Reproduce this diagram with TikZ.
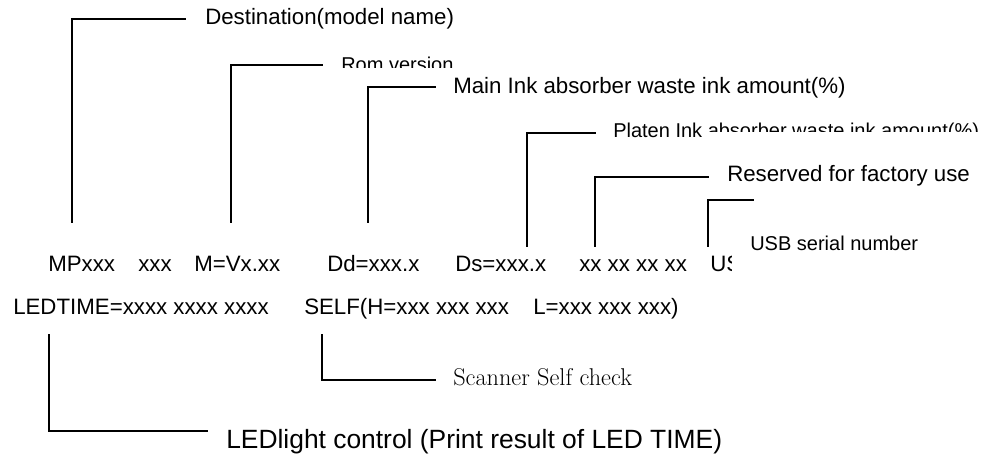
\documentclass[tikz,border=0pt]{standalone}
\usepackage{fontspec}
\newfontfamily\arial{Liberation Sans}
\tikzset{
  lbl/.style={anchor=base west, inner sep=0pt, font=\arial\fontsize{16.7}{20}\selectfont},
  sm/.style={anchor=base west, inner sep=0pt, font=\arial\fontsize{15}{18}\selectfont},
  big/.style={anchor=base west, inner sep=0pt, font=\arial\fontsize{19.8}{24}\selectfont},
  serif/.style={anchor=base west, inner sep=0pt, font=\rmfamily\fontsize{18.2}{22}\selectfont},
  conn/.style={line width=1.1pt, line cap=rect},
}
\begin{document}
\begin{tikzpicture}[x=0.75pt,y=-0.75pt]
\useasboundingbox (0,0) rectangle (983,462);
% first data row
\node[lbl] (mp) at (48,271) {MPxxx};
\node[lbl] (x3) at (138,271) {xxx};
\node[lbl] (mv) at (194,271) {M=Vx.xx};
\node[lbl] (dd) at (327,271) {Dd=xxx.x};
\node[lbl] (ds) at (455,271) {Ds=xxx.x};
\node[lbl] (xx) at (579,271) {xx xx xx xx};
\begin{scope}
  \clip (700,240) rectangle (731,290);
  \node[lbl] (us) at (710,271) {US};
\end{scope}
% second data row
\node[lbl] (led) at (13,314) {LEDTIME=xxxx xxxx xxxx};
\node[lbl] (selfh) at (304,314) {SELF(H=xxx xxx xxx};
\node[lbl] (selfl) at (533,314) {L=xxx xxx xxx)};
% labels
\node[lbl] (dest) at (205,24) {Destination(model name)};
\begin{scope}
  \clip (330,40) rectangle (480,67);
  \node[sm] (rom) at (341,71) {Rom version};
\end{scope}
\node[lbl] (main) at (453,93) {Main Ink absorber waste ink amount(\%)};
\begin{scope}
  \clip (605,100) rectangle (704,145) (704,100) rectangle (983,131);
  \node[sm] (platen) at (613,137) {Platen Ink absorber waste ink amount(\%)};
\end{scope}
\node[lbl] (resv) at (727,181) {Reserved for factory use};
\node[sm] (usb) at (750,250) {USB serial number};
\node[serif] (scan) at (453,385) {Scanner Self check};
\node[big] (ledl) at (226,448) {LEDlight control (Print result of LED TIME)};
% connector ends
\coordinate (c1a) at (72,222);  \coordinate (c1b) at (185,19);
\coordinate (c2a) at (231,222); \coordinate (c2b) at (322,65);
\coordinate (c3a) at (368,222); \coordinate (c3b) at (435,87);
\coordinate (c4a) at (527,246); \coordinate (c4b) at (595,133);
\coordinate (c5a) at (595,246); \coordinate (c5b) at (708,177);
\coordinate (c6a) at (708,246); \coordinate (c6b) at (753,200);
\coordinate (c7a) at (322,335); \coordinate (c7b) at (435,380);
\coordinate (c8a) at (49,335);  \coordinate (c8b) at (207,431);
\draw[conn] (c1a) |- (c1b);
\draw[conn] (c2a) |- (c2b);
\draw[conn] (c3a) |- (c3b);
\draw[conn] (c4a) |- (c4b);
\draw[conn] (c5a) |- (c5b);
\draw[conn] (c6a) |- (c6b);
\draw[conn] (c7a) |- (c7b);
\draw[conn] (c8a) |- (c8b);
\end{tikzpicture}
\end{document}
